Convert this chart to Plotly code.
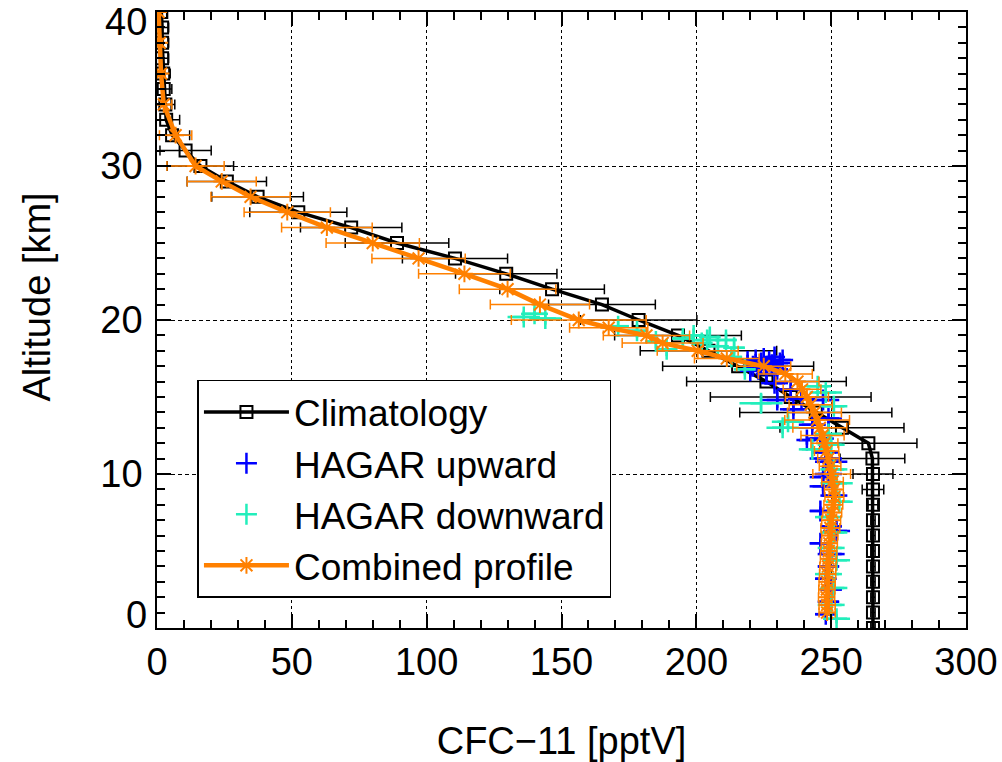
import plotly.graph_objects as go

# ---------------- data ----------------
# Climatology (altitude in km, CFC-11 in pptV, 1-sigma)
ALT_CLIM = [0, 1, 2, 3, 4, 5, 6, 7, 8, 9, 10, 11, 12, 13, 14, 15, 16, 17, 18, 19, 20,
            21, 22, 23, 24, 25, 26, 27, 28, 29, 30, 31, 32, 33, 34, 35, 36, 37, 38, 39, 40]
CLIM = [265.5, 265.5, 265.5, 265.5, 265.5, 265.5, 265.5, 265.5, 265.5, 265.5, 265.5,
        265.3, 263.8, 254.0, 244.3, 235.0, 226.0, 215.5, 204.5, 193.2, 178.6,
        165.0, 146.5, 129.5, 110.5, 89.0, 72.0, 52.4, 37.3, 25.9, 16.1,
        10.6, 5.6, 3.4, 3.1, 2.5, 2.3, 1.9, 1.9, 1.9, 1.6]
CLIM_ERR = [0.8, 0.8, 0.8, 0.8, 0.8, 0.8, 0.8, 0.8, 1.8, 4.0, 7.4,
            12.0, 18.0, 23.0, 28.2, 29.8, 29.6, 28.0, 25.3, 23.5, 21.6,
            19.8, 19.4, 18.8, 19.5, 19.2, 18.8, 18.0, 17.0, 14.7, 12.3,
            9.5, 6.5, 5.0, 3.5, 3.0, 2.6, 2.4, 2.4, 2.4, 2.0]

# HAGAR upward
UP_VAL = [219, 221, 222, 223, 224, 225, 226, 227, 228, 229, 230, 231, 232, 220, 226,
          229, 235, 239, 230, 236, 247, 249, 243, 246, 248, 250, 249, 247, 251, 246,
          250, 252, 246, 250, 249, 248, 250, 249, 248, 241, 248, 247]
UP_ALT = [17.3, 17.0, 17.4, 16.8, 17.2, 17.5, 16.9, 17.3, 17.1, 17.6, 16.8, 17.2, 17.4, 16.7, 16.5,
          15.9, 15.5, 14.9, 14.8, 14.2, 14.8, 13.6, 13.2, 12.3, 11.4, 10.8, 10.0, 9.2, 8.6, 7.6,
          6.6, 6.3, 5.5, 4.8, 4.0, 3.2, 2.5, 1.7, 0.9, 12.2, 11.0, 9.8]
UP_VERR = [3, 3, 3, 3, 4, 3, 3, 3, 3, 3, 4, 3, 3, 3, 4,
           5, 5, 5, 6, 5, 6, 5, 5, 5, 5, 6, 5, 5, 5, 4,
           4, 5, 4, 5, 4, 4, 4, 4, 4, 3, 6, 5]
UP_AERR = [0.45, 0.45, 0.4, 0.45, 0.45, 0.4, 0.45, 0.45, 0.4, 0.45, 0.45, 0.45, 0.4, 0.4, 0.4,
           0.4, 0.4, 0.45, 0.5, 0.4, 0.4, 0.4, 0.35, 0.3, 0.3, 0.3, 0.3, 0.3, 0.3, 0.3,
           0.3, 0.3, 0.3, 0.3, 0.3, 0.3, 0.3, 0.3, 0.3, 0.3, 0.3, 0.3]

# HAGAR downward
DN_VAL = [136, 140, 144, 171, 178, 185, 189, 195, 199, 202, 205, 208, 211, 214, 204,
          213, 218, 224, 234, 232, 245, 248, 251, 243, 249, 250, 251, 252, 253, 249,
          251, 250, 252, 249, 251, 250, 252]
DN_ALT = [20.2, 20.4, 20.1, 19.6, 19.3, 18.6, 18.1, 18.8, 19.0, 18.5, 18.9, 18.3, 18.7, 18.2, 18.7,
          17.6, 16.8, 14.6, 13.4, 13.0, 15.7, 15.3, 14.4, 11.6, 12.6, 11.9, 10.3, 9.4, 8.2, 7.2,
          6.2, 5.2, 4.4, 3.5, 2.6, 1.5, 0.6]
DN_VERR = [6, 5, 6, 4, 4, 4, 4, 4, 4, 4, 4, 4, 4, 4, 5,
           4, 4, 8, 6, 6, 5, 6, 5, 5, 5, 5, 5, 6, 5, 5,
           5, 5, 5, 5, 5, 5, 5]
DN_AERR = [0.4, 0.4, 0.4, 0.45, 0.45, 0.45, 0.45, 0.45, 0.45, 0.45, 0.45, 0.45, 0.45, 0.45, 0.4,
           0.4, 0.4, 0.6, 0.4, 0.4, 0.4, 0.4, 0.4, 0.3, 0.3, 0.3, 0.3, 0.3, 0.3, 0.3,
           0.3, 0.3, 0.3, 0.3, 0.3, 0.3, 0.3]

# Combined profile
ALT_COMB = [1.0, 1.5, 2.0, 2.5, 3.0, 3.5, 4.0, 4.5, 5.0, 5.5, 6.0, 6.5, 7.0, 7.5, 8.0, 8.5,
            9.0, 9.5, 10.0, 10.5, 11.0, 11.5, 12.0, 12.5, 13.0, 13.5, 14.0, 14.5, 15.0, 15.5,
            16.0, 16.5, 17.0, 17.5, 18.0, 18.5, 19.0, 19.5, 20, 21, 22, 23, 24, 25, 26, 27,
            28, 29, 30, 32, 34, 36, 38, 40]
COMB = [248.5, 248.5, 248.3, 248.4, 248.5, 248.7, 248.8, 249.0, 249.1, 249.3, 249.5, 249.7,
        250.0, 250.4, 250.8, 251.2, 251.0, 250.5, 250.2, 249.6, 249.0, 248.3, 247.5, 246.8,
        245.8, 244.8, 243.8, 242.4, 241.0, 239.2, 237.5, 233.0, 225.0, 211.3, 200.5, 187.5,
        181.5, 167.5, 156.4, 142.0, 130.0, 114.0, 97.0, 80.0, 63.0, 48.3, 34.7, 24.0, 14.3,
        6.9, 2.5, 1.5, 1.0, 0.6]
COMB_ERR = [3, 3, 3, 3, 3, 3, 3, 3, 3, 3, 3, 3.5, 3.5, 3.5, 3.5, 3.5,
            3.5, 4, 7, 4, 4, 4.5, 5, 8, 10, 12, 10, 8, 8, 7,
            8, 10, 10, 12, 15, 15, 16, 14.5, 25, 18.4, 17.9, 17, 17.3, 17.3, 16.8, 16,
            14.7, 12.8, 10.6, 6, 3, 1.5, 1, 0.5]

X_TICKS = [0, 50, 100, 150, 200, 250, 300]
Y_TICKS = [0, 10, 20, 30, 40]
Y_TICK_TEXT = ["0", "10", "20", "30", "40"]

ORANGE = "#FF8000"
BLUE = "#0000FF"
CYAN = "#22EEBB"
FONT = "Liberation Sans, Arial, Helvetica, sans-serif"

fig = go.Figure()

fig.add_trace(go.Scatter(
    x=CLIM, y=ALT_CLIM, name="Climatology", mode="lines+markers",
    line=dict(color="black", width=3.5),
    marker=dict(symbol="square-open", size=12, color="black", line=dict(width=2, color="black")),
    error_x=dict(type="data", array=CLIM_ERR, color="black", thickness=1.5, width=5),
))
fig.add_trace(go.Scatter(
    x=UP_VAL, y=UP_ALT, name="HAGAR upward", mode="markers",
    marker=dict(symbol="cross-thin", size=15, color=BLUE, line=dict(width=2.5, color=BLUE)),
    error_x=dict(type="data", array=UP_VERR, color=BLUE, thickness=2.5, width=0),
    error_y=dict(type="data", array=UP_AERR, color=BLUE, thickness=2.5, width=0),
))
fig.add_trace(go.Scatter(
    x=DN_VAL, y=DN_ALT, name="HAGAR downward", mode="markers",
    marker=dict(symbol="cross-thin", size=15, color=CYAN, line=dict(width=2.5, color=CYAN)),
    error_x=dict(type="data", array=DN_VERR, color=CYAN, thickness=2.5, width=0),
    error_y=dict(type="data", array=DN_AERR, color=CYAN, thickness=2.5, width=0),
))
fig.add_trace(go.Scatter(
    x=COMB, y=ALT_COMB, name="Combined profile", mode="lines+markers",
    line=dict(color=ORANGE, width=4.5),
    marker=dict(symbol="asterisk-open", size=14, color=ORANGE, line=dict(width=2, color=ORANGE)),
    error_x=dict(type="data", array=COMB_ERR, color=ORANGE, thickness=1.5, width=5),
))

axis_common = dict(
    showline=True, linecolor="black", linewidth=1.5, mirror="ticks",
    ticks="inside", tickcolor="black", tickwidth=1.5, ticklen=14,
    showgrid=True, gridcolor="black", gridwidth=1.2,
    zeroline=False, automargin=False, ticklabeloverflow="allow",
    tickfont=dict(family=FONT, size=38, color="black"),
)

fig.update_xaxes(
    range=[0, 300], tickvals=X_TICKS, griddash="dot",
    minor=dict(dtick=10, ticks="inside", ticklen=8, tickwidth=1.5, tickcolor="black", showgrid=False),
    title=dict(text="CFC\u221211 [pptV]", font=dict(family=FONT, size=38, color="black"), standoff=45),
    ticklabelstandoff=0,
    **axis_common,
)
# inner labels (10, 20, 30) come from the axis; the end labels are nudged inside the frame
fig.update_yaxes(
    range=[0, 40], tickvals=Y_TICKS,
    ticktext=["" if t in (Y_TICKS[0], Y_TICKS[-1]) else s for t, s in zip(Y_TICKS, Y_TICK_TEXT)],
    griddash="4px,3px",
    minor=dict(dtick=1, ticks="inside", ticklen=8, tickwidth=1.5, tickcolor="black", showgrid=False),
    ticklabelstandoff=5,
    **axis_common,
)

annotations = [
    dict(x=0, xref="paper", y=Y_TICKS[-1], yref="y", text=Y_TICK_TEXT[-1], showarrow=False,
         xanchor="right", yanchor="middle", xshift=-8, yshift=-10,
         font=dict(family=FONT, size=38, color="black")),
    dict(x=0, xref="paper", y=Y_TICKS[0], yref="y", text=Y_TICK_TEXT[0], showarrow=False,
         xanchor="right", yanchor="middle", xshift=-8, yshift=13,
         font=dict(family=FONT, size=38, color="black")),
    dict(x=-0.148, xref="paper", y=0.537, yref="paper", text="Altitude [km]", showarrow=False,
         textangle=-90, xanchor="center", yanchor="middle",
         font=dict(family=FONT, size=38, color="black")),
]

fig.update_layout(
    width=1002, height=762,
    margin=dict(l=157, r=36, t=12, b=134),
    paper_bgcolor="white", plot_bgcolor="white",
    font=dict(family=FONT, size=38, color="black"),
    showlegend=True,
    annotations=annotations,
    legend=dict(
        x=0.05, y=0.4026, xanchor="left", yanchor="top",
        bgcolor="white", bordercolor="black", borderwidth=1.5,
        font=dict(family=FONT, size=37, color="black"),
        itemwidth=85,
    ),
)

fig.write_html("out.html")
